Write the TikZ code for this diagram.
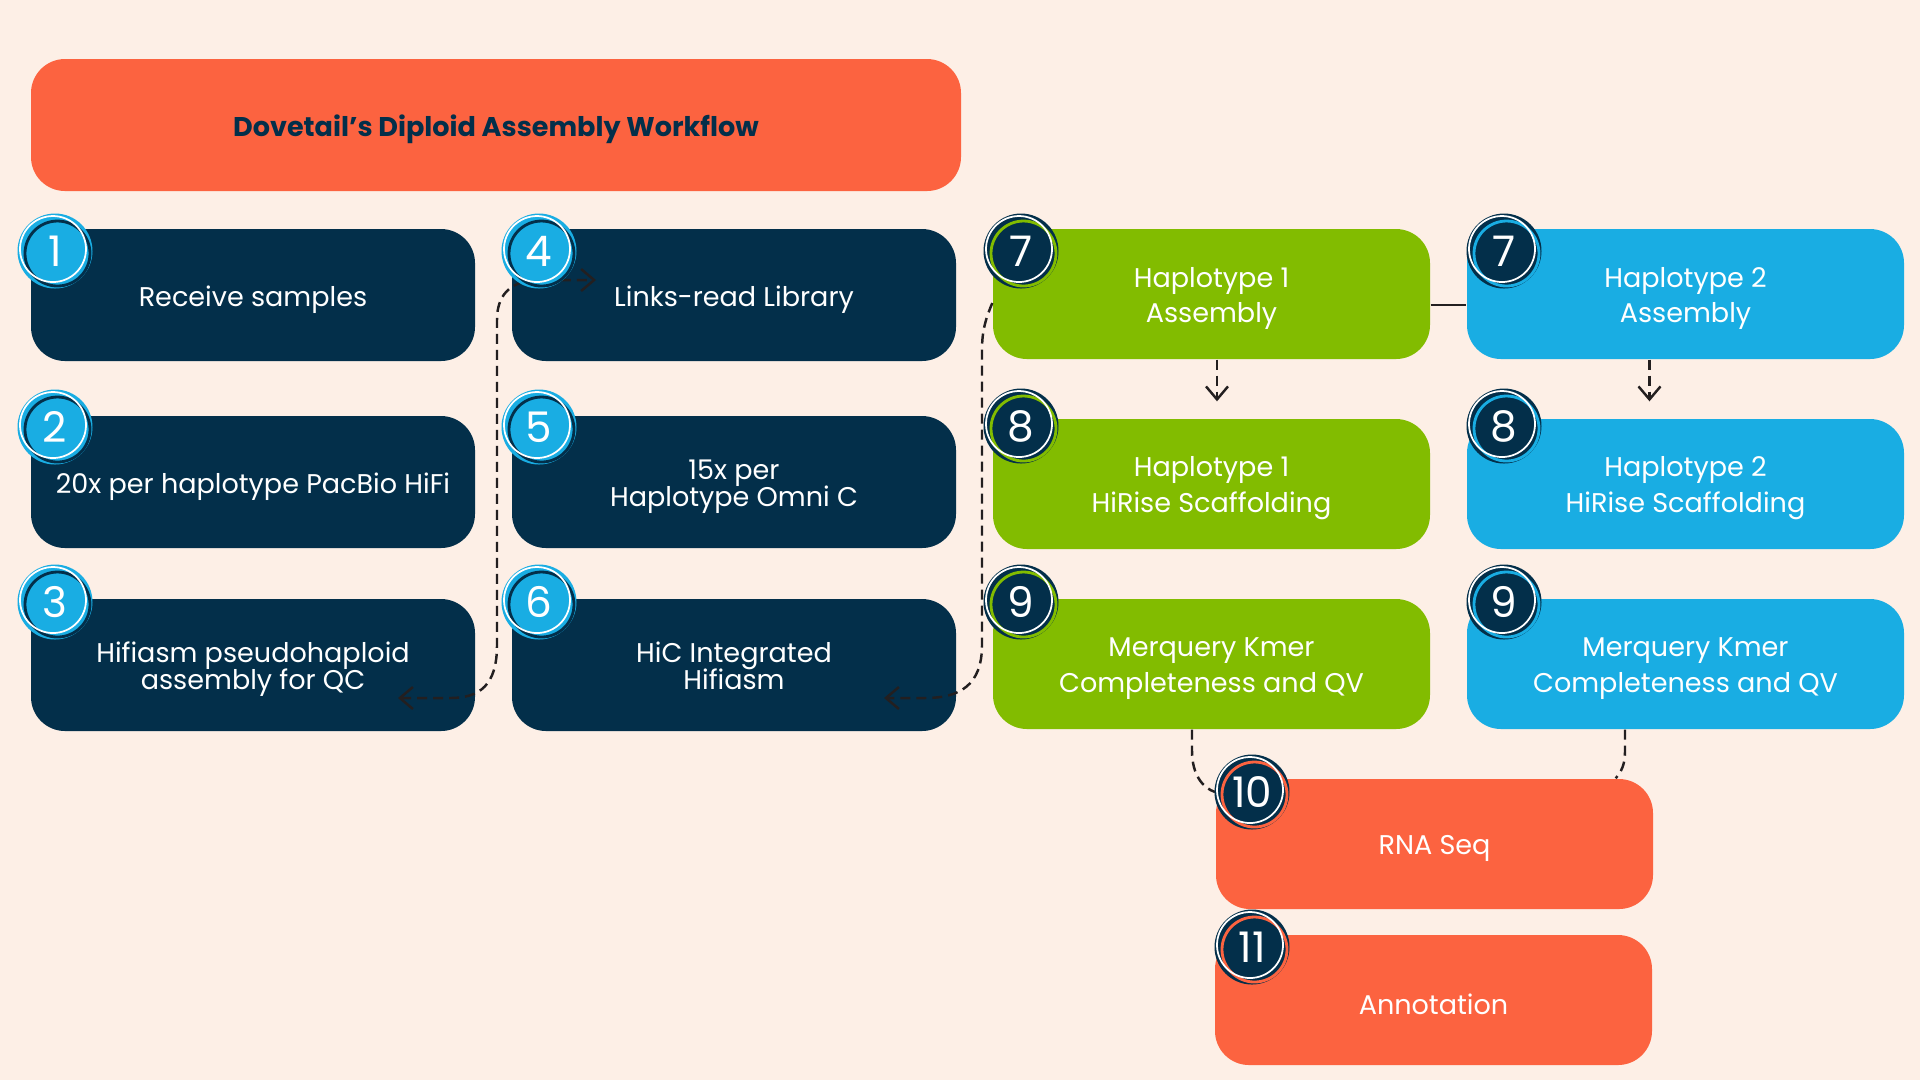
\documentclass[tikz,border=0pt]{standalone}
\usepackage{fontspec}
\setmainfont{Poppins}
\usetikzlibrary{arrows.meta}

\definecolor{bgpeach}{HTML}{FDEFE6}
\definecolor{dorange}{HTML}{FC6340}
\definecolor{dnavy}{HTML}{032F4A}
\definecolor{dgreen}{HTML}{82BC00}
\definecolor{dcyan}{HTML}{19ADE3}
\definecolor{dline}{HTML}{231F20}

\newcommand\tightlines{\lineskiplimit=-5pt\relax\lineskip=0pt\relax}

\begin{document}
\begin{tikzpicture}[x=0.1mm, y=-0.1mm,
    card/.style={rounded corners=3.4mm, minimum height=13.2mm, inner sep=0pt},
    navycard/.style={card, fill=dnavy, minimum width=44.4mm},
    greencard/.style={card, fill=dgreen, minimum width=43.7mm, minimum height=13mm},
    bluecard/.style={greencard, fill=dcyan},
    orangecard/.style={card, fill=dorange, minimum width=43.7mm, minimum height=13mm},
    cardtext/.style={align=center, text=white, inner sep=0pt,
        font=\fontsize{7.7}{7.7}\selectfont\tightlines},
    haptext/.style={cardtext, font=\fontsize{7.7}{10.2}\selectfont},
    badge/.style={circle, minimum size=7.5mm, inner sep=0pt, text=white,
        font=\fontsize{12}{12}\selectfont},
    link/.style={draw=dline, line width=0.7pt, dash pattern=on 1mm off 0.6mm},
    arrowend/.style={-{Straight Barb[length=1.3mm,width=2.2mm]}},
    arrowboth/.style={{Straight Barb[length=1.3mm,width=2.2mm]}-{Straight Barb[length=1.3mm,width=2.2mm]}}
]
    % Draw the background
    \fill[bgpeach] (0,0) rectangle (1920,1080);

    % Draw the title bar
    \node[card, fill=dorange, minimum width=93mm] (title) at (496,125) {};
    \node[cardtext, text=dnavy, font=\bfseries\fontsize{7.7}{9}\selectfont]
        at ([yshift=-0.4mm]title.center) {Dovetail’s Diploid Assembly Workflow};

    % Draw the sample and library steps
    \foreach \name/\cx/\cy/\dy/\txt in {s1/253/295/0.45/Receive samples,
        s2/253/482/0.45/20x per haplotype PacBio HiFi,
        s3/253/665/0.45/{Hifiasm pseudohaploid\\assembly for QC},
        s4/734/295/0.45/Links-read Library,
        s5/734/482/0.45/{15x per\\Haplotype Omni C},
        s6/734/665/0.05/{HiC Integrated\\Hifiasm}} {
        \node[navycard] (\name) at (\cx,\cy) {};
        \node[cardtext] at ([yshift=-\dy mm]\name.center) {\txt};
    }

    % Draw the two haplotype columns
    \foreach \name/\kind/\cx/\cy/\txt in {h1asm/greencard/1211.5/294/{Haplotype 1\\Assembly},
        h1scf/greencard/1211.5/484/{Haplotype 1\\HiRise Scaffolding},
        h1mq/greencard/1211.5/664/{Merquery Kmer\\Completeness and QV},
        h2asm/bluecard/1685.5/294/{Haplotype 2\\Assembly},
        h2scf/bluecard/1685.5/484/{Haplotype 2\\HiRise Scaffolding},
        h2mq/bluecard/1685.5/664/{Merquery Kmer\\Completeness and QV}} {
        \node[\kind] (\name) at (\cx,\cy) {};
        \node[haptext] at ([yshift=-0.45mm]\name.center) {\txt};
    }

    % Draw the last two steps
    \node[orangecard] (rna) at (1434.5,844) {};
    \node[cardtext] at ([yshift=-0.45mm]rna.center) {RNA Seq};
    \node[orangecard] (annot) at (1433.5,1000) {};
    \node[cardtext] at ([yshift=-0.45mm]annot.center) {Annotation};

    % Draw the connectors
    \coordinate (t4) at (596,280);
    \coordinate (t3) at (398,698);
    \coordinate (t6) at (884,698);
    \draw[link, arrowboth] (t3) -- (450,698) .. controls (480,698) and (497,685) .. (497,645)
        -- (497,320) .. controls (497,295) and (510,282) .. (535,280) -- (t4);
    \draw[link, arrowend] ([yshift=-0.9mm]h1asm.west) .. controls (986,318) and (982,330) .. (982,350)
        -- (982,645) .. controls (982,685) and (960,698) .. (925,698) -- (t6);
    \draw[dline, line width=0.7pt] ([yshift=-1.1mm]h1asm.east) -- ([yshift=-1.1mm]h2asm.west);
    \draw[link, arrowend, shorten >=1.7mm] ([xshift=0.55mm]h1asm.south) -- ([xshift=0.55mm]h1scf.north);
    \draw[link, arrowend, shorten >=1.7mm] ([xshift=-3.6mm]h2asm.south) -- ([xshift=-3.6mm]h2scf.north);
    \draw[link] ([xshift=-1.95mm]h1mq.south) -- ++(0,21) .. controls (1192,775) and (1203,788) .. (1215,792);
    \draw[link] ([xshift=-6.05mm]h2mq.south) -- ++(0,22) .. controls (1625,765) and (1621,772)
        .. ([xshift=-3.8mm]rna.north east);

    % Draw the numbered badges
    \foreach \cname/\cx/\cy/\num/\base/\ring in {c1/55/251/1/dcyan/dnavy, c2/55/427/2/dcyan/dnavy,
        c3/55/602/3/dcyan/dnavy, c4/539/251/4/dcyan/dnavy, c5/539/427/5/dcyan/dnavy,
        c6/539/602/6/dcyan/dnavy, g7/1021/251/7/dnavy/dgreen, g8/1021/426/8/dnavy/dgreen,
        g9/1021/602/9/dnavy/dgreen, b7/1504/251/7/dnavy/dcyan, b8/1504/426/8/dnavy/dcyan,
        b9/1504/602/9/dnavy/dcyan, c10/1252/792/10/dnavy/dorange, c11/1252/947/11/dnavy/dorange} {
        \node[badge, fill=\base] (\cname) at (\cx,\cy) {\num};
        \draw[\ring, line width=0.8pt] ([shift={(0.25mm,-0.25mm)}]\cname.center) circle (3.25mm);
        \draw[white, line width=0.5pt] ([shift={(-0.2mm,0.2mm)}]\cname.center) circle (3.3mm);
    }
\end{tikzpicture}
\end{document}
